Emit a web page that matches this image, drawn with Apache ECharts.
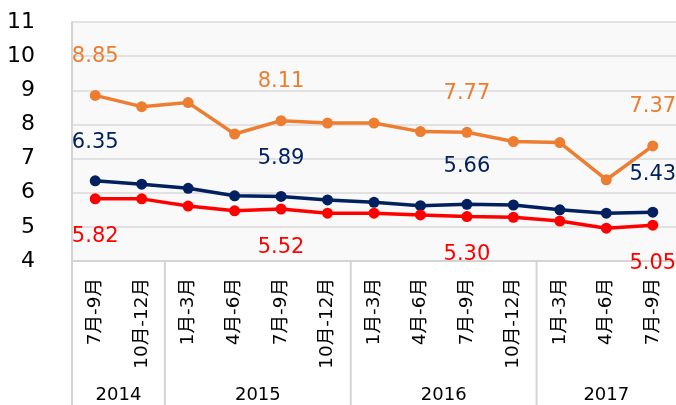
<!DOCTYPE html>
<html><head><meta charset="utf-8">
<script src="https://cdn.jsdelivr.net/npm/echarts@6/dist/echarts.min.js"></script>
<style>html,body{margin:0;padding:0;background:#fff;}#c{width:676px;height:405px;}</style>
</head><body><div id="c"></div>
<script>
var quarters = ['7月-9月','10月-12月','1月-3月','4月-6月','7月-9月','10月-12月','1月-3月','4月-6月','7月-9月','10月-12月','1月-3月','4月-6月','7月-9月'];
var years = ['2014','2015','2016','2017'];
var yearStart = [0, 2, 6, 10];
var yearEnd = [2, 6, 10, 13];
var orange = [8.85, 8.52, 8.64, 7.72, 8.11, 8.04, 8.04, 7.79, 7.77, 7.50, 7.47, 6.38, 7.37];
var navy = [6.35, 6.25, 6.13, 5.91, 5.89, 5.79, 5.72, 5.62, 5.66, 5.64, 5.50, 5.40, 5.43];
var red = [5.82, 5.82, 5.61, 5.47, 5.52, 5.40, 5.40, 5.35, 5.30, 5.28, 5.17, 4.96, 5.05];
var labelIdx = [0, 4, 8, 12];
var yTicks = [4, 5, 6, 7, 8, 9, 10, 11];

var FONT = '"DejaVu Sans", "Noto Sans CJK JP", sans-serif';
function mkSeries(name, data, color, off) {
  return {
    name: name, type: 'line', data: data, xAxisIndex: 0, yAxisIndex: 0,
    symbol: 'circle', symbolSize: 11,
    lineStyle: {color: color, width: 3.5},
    itemStyle: {color: color},
    label: {
      show: true, position: 'inside', offset: [0, off],
      color: color, fontFamily: FONT, fontSize: 21,
      formatter: function (p) { return labelIdx.indexOf(p.dataIndex) >= 0 ? p.value.toFixed(2) : ''; }
    },
    z: 3
  };
}
var chart = echarts.init(document.getElementById('c'), null, {renderer: 'canvas'});
chart.setOption({
  animation: false,
  grid: {left: 72, top: 22, right: -2, bottom: 144, show: true, backgroundColor: '#f9f9f9', borderWidth: 0},
  xAxis: [{
    type: 'category', data: quarters, boundaryGap: true,
    axisLine: {show: true, lineStyle: {color: '#d4d4d4', width: 2}},
    axisTick: {show: false},
    axisLabel: {rotate: 90, margin: 17, color: '#000', fontFamily: FONT, fontSize: 18.5, interval: 0}
  }, {
    type: 'value', min: 0, max: quarters.length, show: false
  }],
  yAxis: {
    type: 'value', min: yTicks[0], max: yTicks[yTicks.length - 1], interval: 1,
    axisLine: {show: true, lineStyle: {color: '#d4d4d4', width: 2}},
    axisTick: {show: false},
    splitLine: {lineStyle: {color: '#d9d9d9', width: 1.5}},
    axisLabel: {margin: 37, color: '#000', fontFamily: FONT, fontSize: 22}
  },
  series: [
    mkSeries('orange', orange, '#ED7D31', -39),
    mkSeries('navy', navy, '#002060', -38),
    mkSeries('red', red, '#FF0000', 38),
    {
      type: 'custom', xAxisIndex: 1, yAxisIndex: 0, silent: true, clip: false,
      data: years.map(function (y, i) { return [yearStart[i], yearEnd[i], i]; }),
      renderItem: function (params, api) {
        var s = api.value(0), e = api.value(1), i = api.value(2);
        var p0 = api.coord([s, yTicks[0]]);
        var p1 = api.coord([e, yTicks[0]]);
        var h = api.getHeight();
        return {
          type: 'group',
          children: [
            {type: 'line', shape: {x1: p0[0], y1: p0[1], x2: p0[0], y2: h}, style: {stroke: '#d4d4d4', lineWidth: 2}},
            {type: 'text', style: {text: years[i], x: (p0[0] + p1[0]) / 2, y: h - 10, align: 'center', verticalAlign: 'middle', fill: '#000', font: '18px ' + FONT}}
          ]
        };
      }
    }
  ]
});
</script></body></html>
